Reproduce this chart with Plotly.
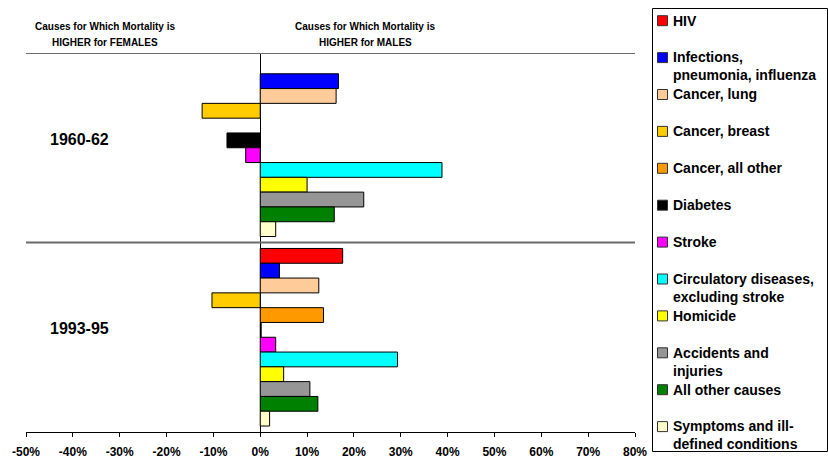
import plotly.graph_objects as go

periods = ["1960-62", "1993-95"]
causes = [
    "HIV",
    "Infections,<br>pneumonia, influenza",
    "Cancer, lung",
    "Cancer, breast",
    "Cancer, all other",
    "Diabetes",
    "Stroke",
    "Circulatory diseases,<br>excluding stroke",
    "Homicide",
    "Accidents and<br>injuries",
    "All other causes",
    "Symptoms and ill-<br>defined conditions",
]
colors = ["#FF0000", "#0000FF", "#FFCC99", "#FFCC00", "#FF9900", "#000000",
          "#FF00FF", "#00FFFF", "#FFFF00", "#969696", "#008000", "#FFFFCC"]
# percent difference (positive = higher for males)
vals_1960 = [None, 16.7, 16.2, -12.4, None, -7.1, -3.1, 38.8, 10.0, 22.1, 15.8, 3.3]
vals_1993 = [17.6, 4.1, 12.5, -10.3, 13.5, 0.2, 3.3, 29.3, 5.0, 10.6, 12.3, 2.0]
x_ticks = list(range(-50, 81, 10))

W, H = 828, 458
ML, MR, MT, MB = 26, 193, 53, 26
PW, PH = W - ML - MR, H - MT - MB


def px(x):
    return (x - ML) / PW


def py(y):
    return (H - MB - y) / PH


FONT = "Liberation Sans, Arial, sans-serif"

fig = go.Figure()
for i, name in enumerate(causes):
    fig.add_trace(go.Bar(
        y=periods, x=[vals_1960[i], vals_1993[i]], orientation="h",
        name=name.replace("<br>", " "), marker=dict(color=colors[i], line=dict(color="#000000", width=1)),
        showlegend=False,
    ))

shapes = []
# category separators (top edge and between the two periods)
for yb in [-0.5, 0.5]:
    shapes.append(dict(type="line", xref="paper", yref="y", x0=0, x1=1, y0=yb, y1=yb,
                       line=dict(color="#6b6b6b", width=2)))
# legend box
shapes.append(dict(type="rect", xref="paper", yref="paper", x0=px(652.5), x1=px(827.5),
                   y0=py(451.5), y1=py(8.5), line=dict(color="#000000", width=1),
                   fillcolor="rgba(0,0,0,0)"))

annotations = []
step = 36.9
for i, name in enumerate(causes):
    c = 20.7 + step * i
    shapes.append(dict(type="rect", xref="paper", yref="paper", x0=px(657.5), x1=px(667.5),
                       y0=py(c + 5), y1=py(c - 5), fillcolor=colors[i],
                       line=dict(color="#333333", width=1)))
    annotations.append(dict(xref="paper", yref="paper", x=px(670.5), y=py(c - 10.1),
                            xanchor="left", yanchor="top", align="left", showarrow=False,
                            text=name, font=dict(family=FONT, size=14, color="#000000", weight="bold")))

# headers
for xc, lines in [(105, ["Causes for Which Mortality is", "HIGHER for FEMALES"]),
                  (365, ["Causes for Which Mortality is", "HIGHER for MALES"])]:
    for j, t in enumerate(lines):
        annotations.append(dict(xref="paper", yref="paper", x=px(xc), y=py(27 + 15.7 * j),
                                xanchor="center", yanchor="middle", showarrow=False, text=t,
                                font=dict(family=FONT, size=10, color="#000000", weight="bold")))

# period labels
for p in periods:
    annotations.append(dict(xref="paper", yref="y", x=px(79), y=p, yshift=8.5,
                            xanchor="center", yanchor="middle", showarrow=False, text=p,
                            font=dict(family=FONT, size=16, color="#000000", weight="bold")))

fig.update_layout(
    width=W, height=H,
    margin=dict(l=ML, r=MR, t=MT, b=MB, pad=0, autoexpand=False),
    paper_bgcolor="white", plot_bgcolor="white",
    barmode="group", bargap=0.063, bargroupgap=0,
    font=dict(family=FONT, color="#000000"),
    shapes=shapes, annotations=annotations,
    xaxis=dict(range=[-50, 80], tickvals=x_ticks, ticktext=[f"{v}%" for v in x_ticks],
               automargin=False,
               showgrid=False, zeroline=True, zerolinecolor="#000000", zerolinewidth=1,
               showline=True, linecolor="#000000", linewidth=1,
               ticks="outside", ticklen=4, tickcolor="#000000", tickwidth=1,
               ticklabelstandoff=5,
               tickfont=dict(family=FONT, size=12, color="#000000", weight="bold")),
    yaxis=dict(categoryorder="array", categoryarray=periods, range=[1.5, -0.5],
               automargin=False,
               showgrid=False, zeroline=False, showline=False, showticklabels=False,
               ticks=""),
)

fig.write_html("out.html")
